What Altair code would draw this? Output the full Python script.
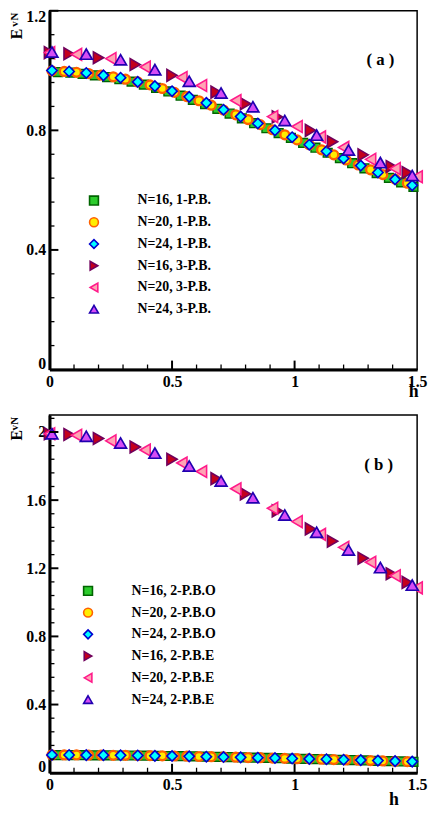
import altair as alt
import pandas as pd

FONT = "Liberation Serif"
W = 372
HA = 363
HB = 362

# ---------------- data ----------------
A_NAMES = ["N=16, 1-P.B.", "N=20, 1-P.B.", "N=24, 1-P.B.",
           "N=16, 3-P.B.", "N=20, 3-P.B.", "N=24, 3-P.B."]
B_NAMES = ["N=16, 2-P.B.O", "N=20, 2-P.B.O", "N=24, 2-P.B.O",
           "N=16, 2-P.B.E", "N=20, 2-P.B.E", "N=24, 2-P.B.E"]

H_SQ = [0.035, 0.085, 0.135, 0.185, 0.235, 0.285, 0.335, 0.385, 0.435, 0.485,
        0.535, 0.585, 0.635, 0.685, 0.735, 0.785, 0.835, 0.885, 0.935, 0.985,
        1.035, 1.085, 1.135, 1.185, 1.235, 1.285, 1.335, 1.385, 1.435, 1.485]
H_CI = [0.01, 0.06, 0.11, 0.16, 0.21, 0.26, 0.31, 0.36, 0.41, 0.46,
        0.51, 0.56, 0.61, 0.66, 0.71, 0.76, 0.81, 0.86, 0.91, 0.96,
        1.01, 1.06, 1.11, 1.16, 1.21, 1.26, 1.31, 1.36, 1.41, 1.46]
H_DI = [0.01, 0.08, 0.15, 0.22, 0.29, 0.36, 0.43, 0.5, 0.57, 0.64, 0.71,
        0.78, 0.85, 0.92, 0.99, 1.06, 1.13, 1.2, 1.27, 1.34, 1.41, 1.48]
H_TR = [0.0, 0.08, 0.2, 0.35, 0.5, 0.68, 0.8, 0.93, 1.065, 1.155, 1.28, 1.395, 1.46]
H_TL = [0.0, 0.11, 0.25, 0.39, 0.54, 0.62, 0.76, 0.91, 1.01, 1.105, 1.2, 1.31, 1.41, 1.5]
H_TU = [0.01, 0.15, 0.29, 0.43, 0.57, 0.7, 0.83, 0.96, 1.09, 1.22, 1.35, 1.48]

# panel (a)
A_SQ = [0.995, 0.993, 0.989, 0.984, 0.978, 0.971, 0.963, 0.953, 0.942, 0.930,
        0.916, 0.902, 0.888, 0.872, 0.856, 0.840, 0.824, 0.807, 0.791, 0.775,
        0.758, 0.742, 0.725, 0.707, 0.690, 0.673, 0.657, 0.641, 0.626, 0.611]
A_CI = [0.999, 0.997, 0.994, 0.990, 0.985, 0.979, 0.971, 0.962, 0.952, 0.940,
        0.927, 0.913, 0.899, 0.884, 0.868, 0.852, 0.836, 0.819, 0.802, 0.785,
        0.768, 0.752, 0.735, 0.718, 0.701, 0.684, 0.668, 0.652, 0.637, 0.623]
A_DI = [1.0, 0.997, 0.992, 0.984, 0.976, 0.962, 0.948, 0.931, 0.912, 0.892, 0.869,
        0.846, 0.823, 0.8, 0.777, 0.752, 0.73, 0.706, 0.682, 0.659, 0.636, 0.616]
A_TR = [1.06, 1.056, 1.043, 1.02, 0.984, 0.928, 0.889, 0.845, 0.8, 0.762, 0.718, 0.679, 0.659]
A_TL = [1.06, 1.054, 1.04, 1.012, 0.977, 0.95, 0.9, 0.846, 0.813, 0.778, 0.743, 0.703, 0.672, 0.645]
A_TU = [1.062, 1.055, 1.036, 1.003, 0.964, 0.925, 0.879, 0.833, 0.784, 0.734, 0.692, 0.649]

# panel (b)
B_SQ = [0.103, 0.103, 0.103, 0.102, 0.102, 0.101, 0.101, 0.100, 0.099, 0.098,
        0.097, 0.096, 0.094, 0.093, 0.092, 0.090, 0.088, 0.087, 0.085, 0.083,
        0.081, 0.080, 0.078, 0.076, 0.074, 0.072, 0.070, 0.068, 0.066, 0.064]
B_CI = [0.104, 0.104, 0.104, 0.103, 0.103, 0.102, 0.102, 0.101, 0.100, 0.099,
        0.098, 0.097, 0.095, 0.094, 0.093, 0.091, 0.089, 0.088, 0.086, 0.084,
        0.082, 0.081, 0.079, 0.077, 0.075, 0.073, 0.071, 0.069, 0.067, 0.065]
B_DI = [0.104, 0.104, 0.103, 0.103, 0.102, 0.101, 0.099, 0.098, 0.096, 0.094, 0.092,
        0.090, 0.088, 0.086, 0.083, 0.081, 0.079, 0.076, 0.074, 0.071, 0.068, 0.065]
B_TR = [1.99, 1.985, 1.962, 1.912, 1.84, 1.726, 1.637, 1.537, 1.431, 1.359, 1.259, 1.168, 1.117]
B_TL = [1.99, 1.981, 1.948, 1.894, 1.818, 1.768, 1.667, 1.552, 1.474, 1.399, 1.323, 1.235, 1.156, 1.085]
B_TU = [1.99, 1.975, 1.935, 1.876, 1.80, 1.712, 1.614, 1.513, 1.411, 1.307, 1.204, 1.101]

H_LISTS = [H_SQ, H_CI, H_DI, H_TR, H_TL, H_TU]

X_MAJOR = [0, 0.5, 1, 1.5]
X_MINOR = [0.1, 0.2, 0.3, 0.4, 0.6, 0.7, 0.8, 0.9, 1.1, 1.2, 1.3, 1.4]
A_Y_MAJOR = [0, 0.4, 0.8, 1.2]
A_Y_MINOR = [0.08, 0.16, 0.24, 0.32, 0.48, 0.56, 0.64, 0.72, 0.88, 0.96, 1.04, 1.12]
B_Y_MAJOR = [0, 0.4, 0.8, 1.2, 1.6, 2.0]
B_Y_MINOR = [0.08, 0.16, 0.24, 0.32, 0.48, 0.56, 0.64, 0.72, 0.88, 0.96, 1.04, 1.12,
             1.28, 1.36, 1.44, 1.52, 1.68, 1.76, 1.84, 1.92, 2.08]

# ---------------- styles ----------------
SHAPES = ["square", "circle", "diamond", "triangle-right", "triangle-left", "triangle-up"]
FILLS = ["#2ccc2c", "#ffee00", "#00ffff", "#c4001c", "#ffa4b4", "#d64cf5"]
STROKES = ["#006400", "#ff6000", "#0000d0", "#70005c", "#ff1a8a", "#2000b0"]
SIZES = [80, 80, 110, 144, 144, 144]
SWS = [1.4, 2.4, 1.6, 1.6, 1.6, 1.7]


def panel(names, e_lists, ydom, ymaj, ymin, H, leg_x, leg_y, tag, tag_h, tag_e,
          hx, hy, ex, ey, sx, ny, vy):
    xs = alt.Scale(domain=[0, 1.5], nice=False, zero=False)
    ys = alt.Scale(domain=ydom, nice=False, zero=False)
    rows = []
    for i, (n, hl, el) in enumerate(zip(names, H_LISTS, e_lists)):
        for h, e in zip(hl, el):
            rows.append({"s": n, "h": h, "E": e, "sz": SIZES[i], "sw": SWS[i]})
    df = pd.DataFrame(rows)

    leg = alt.Legend(orient="none", legendX=leg_x, legendY=leg_y, title=None,
                     labelFont=FONT, labelFontSize=14, labelFontWeight="bold",
                     labelColor="black", labelOffset=37, symbolSize=80,
                     symbolStrokeWidth=1.6, rowPadding=6, padding=0, labelLimit=300)
    xaxis = alt.Axis(values=X_MAJOR, format="~g", grid=False, ticks=False, tickSize=0,
                     labelFlush=False, labelPadding=4, labelFont=FONT, labelFontSize=16,
                     labelFontWeight="bold", labelColor="black", domainColor="black",
                     domainWidth=3, title="h", titleFont=FONT, titleFontSize=18,
                     titleFontWeight="bold", titleColor="black", titleX=hx, titleY=hy,
                     titleAlign="center", titleBaseline="alphabetic", titleAngle=0)
    yaxis = alt.Axis(values=ymaj, format="~g", grid=False, ticks=False, tickSize=0,
                     labelFlush=True, labelFlushOffset=2, labelPadding=4, labelFont=FONT,
                     labelFontSize=16, labelFontWeight="bold", labelColor="black",
                     domainColor="black", domainWidth=3, title="E", titleFont=FONT,
                     titleFontSize=16, titleFontWeight="bold", titleColor="black",
                     titleAngle=270, titleX=ex, titleY=ey, titleAlign="center",
                     titleBaseline="middle")

    pts = alt.Chart(df).mark_point(filled=True, opacity=1).encode(
        x=alt.X("h:Q", scale=xs, axis=xaxis),
        y=alt.Y("E:Q", scale=ys, axis=yaxis),
        shape=alt.Shape("s:N", scale=alt.Scale(domain=names, range=SHAPES), legend=leg),
        fill=alt.Fill("s:N", scale=alt.Scale(domain=names, range=FILLS), legend=leg),
        stroke=alt.Stroke("s:N", scale=alt.Scale(domain=names, range=STROKES), legend=leg),
        size=alt.Size("sz:Q", scale=None),
        strokeWidth=alt.StrokeWidth("sw:Q", scale=None),
    )

    xt_maj = alt.Chart(pd.DataFrame({"h": X_MAJOR[1:-1]})).mark_rule(color="black", strokeWidth=2).encode(
        x=alt.X("h:Q", scale=xs), y=alt.value(H), y2=alt.value(H - 9))
    xt_min = alt.Chart(pd.DataFrame({"h": X_MINOR})).mark_rule(color="black", strokeWidth=1.3).encode(
        x=alt.X("h:Q", scale=xs), y=alt.value(H), y2=alt.value(H - 5))
    yt_maj = alt.Chart(pd.DataFrame({"E": ymaj[1:]})).mark_rule(color="black", strokeWidth=2).encode(
        y=alt.Y("E:Q", scale=ys), x=alt.value(0), x2=alt.value(9))
    yt_min = alt.Chart(pd.DataFrame({"E": ymin})).mark_rule(color="black", strokeWidth=1.3).encode(
        y=alt.Y("E:Q", scale=ys), x=alt.value(0), x2=alt.value(5))

    tagc = alt.Chart(pd.DataFrame({"h": [tag_h], "E": [tag_e], "t": [tag]})).mark_text(
        font=FONT, fontSize=17, fontWeight="bold", color="black").encode(
        x=alt.X("h:Q", scale=xs), y=alt.Y("E:Q", scale=ys), text="t:N")
    sup_n = alt.Chart(pd.DataFrame({"t": ["N"]})).mark_text(
        font=FONT, fontSize=11, fontWeight="bold", angle=270, color="black").encode(
        x=alt.value(sx), y=alt.value(ny), text="t:N")
    sup_v = alt.Chart(pd.DataFrame({"t": ["v"]})).mark_text(
        font=FONT, fontSize=11, fontWeight="bold", angle=270, color="black").encode(
        x=alt.value(sx), y=alt.value(vy), text="t:N")

    return alt.layer(pts, xt_maj, xt_min, yt_maj, yt_min, tagc, sup_n, sup_v).properties(
        width=W, height=H)


a = panel(A_NAMES, [A_SQ, A_CI, A_DI, A_TR, A_TL, A_TU], [0, 1.2], A_Y_MAJOR, A_Y_MINOR, HA,
          38, 185, "( a )", 1.35, 1.035, 368, 27, -33, 23, -35, 6, 13.5)
b = panel(B_NAMES, [B_SQ, B_CI, B_DI, B_TR, B_TL, B_TU], [0, 2.1], B_Y_MAJOR, B_Y_MINOR, HB,
          32, 171, "( b )", 1.343, 1.804, 348, 32, -33, 20, -35, 6, 13)

chart = alt.vconcat(a, b, spacing=13).resolve_scale(
    x="independent", y="independent", shape="independent", fill="independent",
    stroke="independent"
).resolve_legend(shape="independent", fill="independent", stroke="independent").properties(
    padding={"top": -5, "left": 0, "right": 0, "bottom": 0}, background="white"
).configure_view(stroke="black", strokeWidth=1.5)

chart.save("out.html", embed_options={"renderer": "svg", "actions": False})
